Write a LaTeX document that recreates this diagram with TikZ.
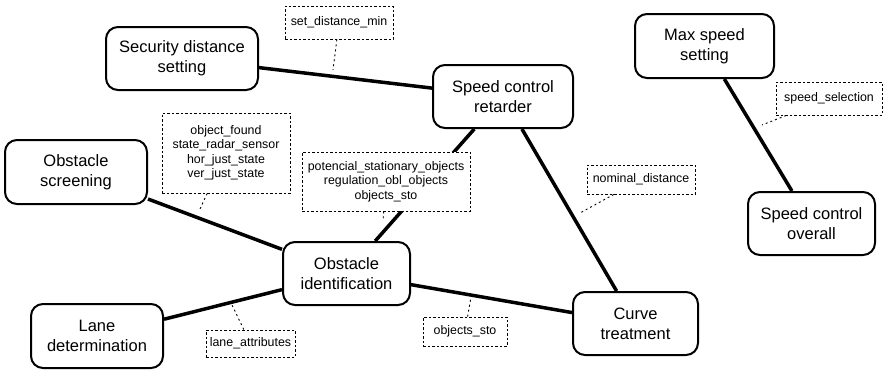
\documentclass[tikz,border=0pt]{standalone}
\usepackage{fontspec}
\setmainfont{Liberation Sans}

\begin{document}
\begin{tikzpicture}[x=1pt, y=-1pt,
    block/.style={draw, line width=2pt, rounded corners=12pt, fill=white, align=center,
      minimum height=63pt, inner sep=0pt, font=\fontsize{16.5}{20}\selectfont},
    tag/.style={draw, line width=0.9pt, dash pattern=on 2.5pt off 2pt, fill=white, align=center,
      inner sep=0pt, font=\fontsize{12.4}{14.5}\selectfont},
    link/.style={line width=3.5pt},
    leader/.style={line width=0.9pt, dash pattern=on 2pt off 3pt}]
      \useasboundingbox (0,0) rectangle (885,370);
      % modules
      \node[block, minimum width=152pt] (secdist) at (182,58.5) {Security distance\\setting};
      \node[block, minimum width=140pt] (retard) at (503,96.5) {Speed control\\retarder};
      \node[block, minimum width=139pt, minimum height=64pt] (maxspeed) at (704.5,46) {Max speed\\setting};
      \node[block, minimum width=127pt] (overall) at (811.5,223.5) {Speed control\\overall};
      \node[block, minimum width=142pt, minimum height=64pt] (screen) at (76,172) {Obstacle\\screening};
      \node[block, minimum width=127pt] (ident) at (346.5,273.5) {Obstacle\\identification};
      \node[block, minimum width=132pt, minimum height=64pt] (lane) at (97,336) {Lane\\determination};
      \node[block, minimum width=125pt] (curve) at (635.5,323.5) {Curve\\treatment};
      % links
      \draw[link] (secdist) -- (retard);
      \draw[link] (retard) -- (ident);
      \draw[link] (retard) -- (curve);
      \draw[link] (maxspeed) -- (overall);
      \draw[link] (screen) -- (ident);
      \draw[link] (lane) -- (ident);
      \draw[link] (ident) -- (curve);
      % data tags
      \node[tag, minimum width=108pt, minimum height=33pt] (tsetdist) at (339,22.5) {set\_distance\_min};
      \node[tag, minimum width=128pt, minimum height=80pt] (tscreen) at (226,153)
        {object\_found\\state\_radar\_sensor\\hor\_just\_state\\ver\_just\_state};
      \node[tag, minimum width=168pt, minimum height=59pt] (tident) at (386,181.5)
        {potencial\_stationary\_objects\\regulation\_obl\_objects\\objects\_sto};
      \node[tag, minimum width=108pt, minimum height=29pt] (tnominal) at (641,179.5) {nominal\_distance};
      \node[tag, minimum width=84pt, minimum height=29pt] (tsto) at (465,331.5) {objects\_sto};
      \node[tag, minimum width=89pt, minimum height=27pt] (tlane) at (250.5,343.5) {lane\_attributes};
      \node[tag, minimum width=106pt, minimum height=33pt] (tspeed) at (829,98.5) {speed\_selection};
      % leader ends
      \coordinate (esetdist) at (333,70);
      \coordinate (escreen) at (199,211);
      \coordinate (eident) at (383,221);
      \coordinate (enominal) at (580,213);
      \coordinate (esto) at (471,297);
      \coordinate (elane) at (232,305);
      \coordinate (espeed) at (762,125);
      \foreach \t/\e in {tsetdist/esetdist, tscreen/escreen, tident/eident, tnominal/enominal,
                         tsto/esto, tlane/elane, tspeed/espeed} {
        \draw[leader] (\t) -- (\e);
      }
\end{tikzpicture}
\end{document}
